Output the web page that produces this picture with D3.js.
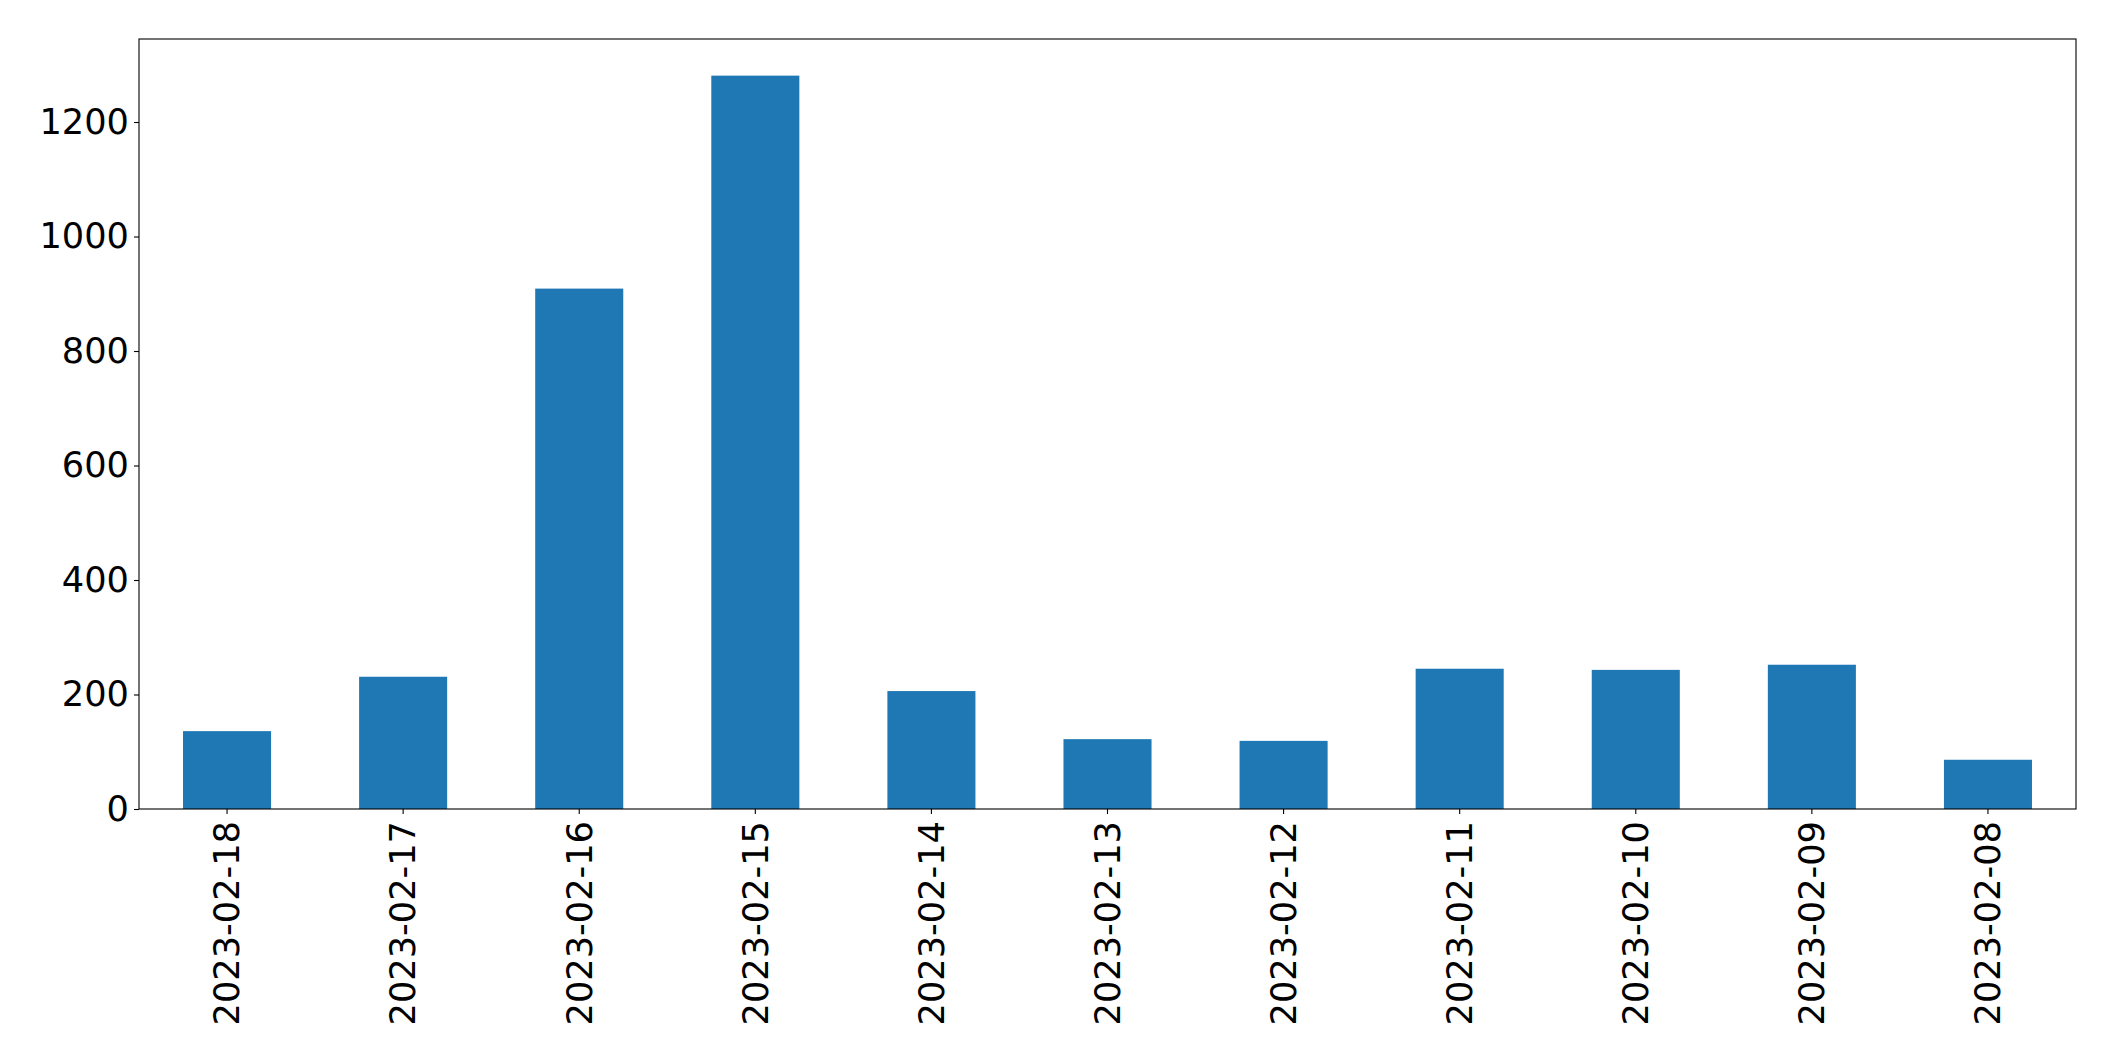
<!DOCTYPE html>
<html>
<head>
<meta charset="utf-8">
<script src="https://cdn.jsdelivr.net/npm/d3@7"></script>
<style>
  html, body { margin: 0; padding: 0; background: #fff; }
  svg { display: block; }
</style>
</head>
<body>
<svg id="chart" width="2115" height="1061"></svg>
<script>
const categories = ["2023-02-18","2023-02-17","2023-02-16","2023-02-15","2023-02-14","2023-02-13","2023-02-12","2023-02-11","2023-02-10","2023-02-09","2023-02-08"];
const values = [136, 231, 909, 1281, 206, 122, 119, 245, 243, 252, 86];
const yTicks = [0, 200, 400, 600, 800, 1000, 1200];

const W = 2115, H = 1061;
const margin = {left: 139, right: 2115 - 2076, top: 39, bottom: 1061 - 809};
const svg = d3.select("#chart");

const x = d3.scaleBand()
  .domain(categories)
  .range([margin.left, W - margin.right])
  .paddingInner(0.5)
  .paddingOuter(0.25);

const y = d3.scaleLinear()
  .domain([0, 1345])
  .range([H - margin.bottom, margin.top]);

svg.append("g")
  .selectAll("rect")
  .data(values)
  .join("rect")
  .attr("x", (d, i) => x(categories[i]))
  .attr("width", x.bandwidth())
  .attr("y", d => y(d))
  .attr("height", d => y(0) - y(d))
  .attr("fill", "#1f77b4");

const fontFamily = "'DejaVu Sans', sans-serif";
const fs = 35.2;

const yAxis = svg.append("g")
  .attr("transform", `translate(${margin.left},0)`)
  .call(d3.axisLeft(y).tickValues(yTicks).tickSize(5).tickPadding(5).tickFormat(d3.format("d")));
yAxis.select(".domain").remove();
yAxis.selectAll("text").attr("font-size", fs).attr("font-family", fontFamily).attr("fill", "#000");
yAxis.selectAll("line").attr("stroke", "#000").attr("stroke-width", 1.1);

const xAxis = svg.append("g")
  .attr("transform", `translate(0,${H - margin.bottom})`)
  .call(d3.axisBottom(x).tickSize(5).tickPadding(7));
xAxis.select(".domain").remove();
xAxis.selectAll("line").attr("stroke", "#000").attr("stroke-width", 1.1);
xAxis.selectAll("text")
  .attr("font-size", fs)
  .attr("font-family", fontFamily)
  .attr("fill", "#000")
  .attr("transform", "rotate(-90)")
  .attr("text-anchor", "end")
  .attr("dy", "0.35em")
  .attr("x", -12)
  .attr("y", 0);

svg.append("rect")
  .attr("x", margin.left)
  .attr("y", margin.top)
  .attr("width", W - margin.right - margin.left)
  .attr("height", H - margin.bottom - margin.top)
  .attr("fill", "none")
  .attr("stroke", "#000")
  .attr("stroke-width", 1.1);
</script>
</body>
</html>
